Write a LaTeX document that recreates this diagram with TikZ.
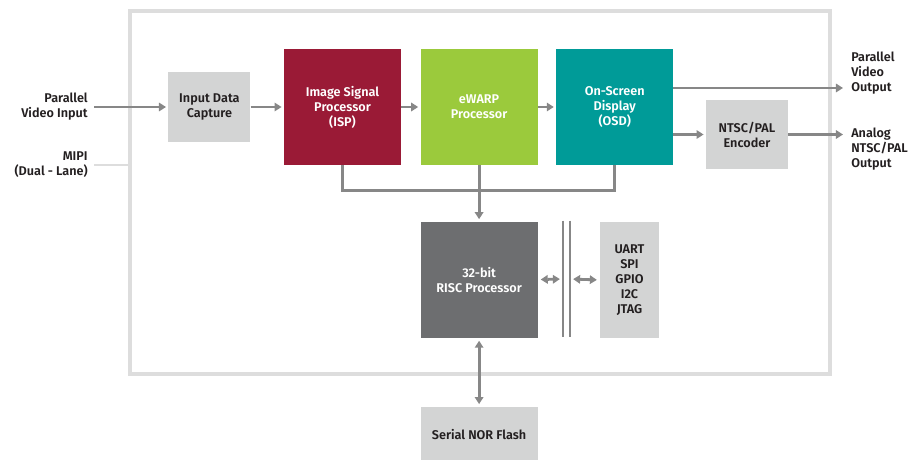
\documentclass[tikz,border=0pt]{standalone}
\usepackage{fontspec}
\setmainfont{Fira Sans}[BoldFont={Fira Sans SemiBold}]
\usepackage{tikz}
\usetikzlibrary{arrows.meta, positioning, calc}
\definecolor{framegray}{HTML}{DDDDDD}
\definecolor{boxgray}{HTML}{D3D4D4}
\definecolor{linegray}{HTML}{878787}
\definecolor{textdark}{HTML}{231F20}
\definecolor{ispred}{HTML}{9A1A36}
\definecolor{warpgreen}{HTML}{9BCA3C}
\definecolor{osdteal}{HTML}{009B98}
\definecolor{riscgray}{HTML}{6D6E70}

\begin{document}
\begin{tikzpicture}[x=0.025cm, y=-0.025cm,
    every node/.style={font=\fontsize{9}{10.6}\selectfont\bfseries, text=textdark, align=center},
    block/.style={minimum width=2.925cm, minimum height=2.9cm, inner sep=0pt, text=white},
    greybox/.style={fill=boxgray, inner sep=0pt},
    label/.style={inner sep=0pt},
    link/.style={draw=linegray, line width=2pt},
    arr/.style={link, -{Triangle[length=5pt,width=6pt]}, shorten >=1.5pt},
    darr/.style={link, {Triangle[length=5pt,width=6pt]}-{Triangle[length=5pt,width=6pt]}, shorten >=2pt, shorten <=2pt}]
                \useasboundingbox (0,0) rectangle (922,460);
                \node[draw=framegray, line width=2.4pt, minimum width=17.5cm, minimum height=9.075cm] at (480,192.5) (chip) {};
                \node[block, fill=ispred] at (342.5,107) (isp) {Image Signal\\Processor\\(ISP)};
                \node[block, fill=warpgreen, right=0.475cm of isp] (ewarp) {eWARP\\Processor};
                \node[block, fill=osdteal, right=0.45cm of ewarp] (osd) {On-Screen\\Display\\(OSD)};
                \node[greybox, minimum width=2.05cm, minimum height=1.75cm, left=0.825cm of isp] (idc) {Input Data\\Capture};
                \node[greybox, minimum width=2.05cm, minimum height=1.725cm] at (747,134.5) (enc) {NTSC/PAL\\Encoder};
                \node[block, fill=riscgray, below=1.4cm of ewarp] (risc) {32-bit\\RISC Processor};
                \node[minimum width=0.175cm, minimum height=2.9cm, inner sep=0pt] at (566.5,279) (bus) {};
                \node[greybox, minimum width=1.475cm, minimum height=2.9cm] at (629.5,280) (io) {UART\\SPI\\GPIO\\I2C\\JTAG};
                \node[greybox, minimum width=2.925cm, minimum height=1.35cm, below=1.725cm of risc] (flash) {Serial NOR Flash};
                \node[label, anchor=east, align=right] at (88,107) (pvin) {Parallel\\Video Input};
                \node[label, anchor=east, align=right] at (88,165) (mipi) {MIPI\\(Dual - Lane)};
                \node[label, anchor=west, align=left] at (851,73) (pvout) {Parallel\\Video\\Output};
                \node[label, anchor=west, align=left] at (851,149) (anout) {Analog\\NTSC/PAL\\Output};
                \coordinate (pvtap) at ([yshift=0.475cm]osd.east);
                \draw[arr, shorten <=0.15cm] (pvin.east) -- (idc.west);
                \draw[link, draw=framegray, shorten <=0.15cm] (mipi.east) -- (mipi.east -| chip.west);
                \draw[arr] (idc.east) -- (isp.west);
                \draw[arr] (isp.east) -- (ewarp.west);
                \draw[arr] (ewarp.east) -- (osd.west);
                \draw[arr, shorten >=0.2cm] (pvtap) -- (pvtap -| pvout.west);
                \draw[arr] (osd.east |- enc.west) -- (enc.west);
                \draw[arr, shorten >=0.2cm] (enc.east) -- (enc.east -| anout.west);
                \draw[link] (isp.south) -- ++(0,25) -| (osd.south);
                \draw[arr] (ewarp.south) -- (risc.north);
                \draw[link, line width=1.5pt] (bus.north west) -- (bus.south west);
                \draw[link, line width=1.5pt] (bus.north east) -- (bus.south east);
                \draw[darr] (risc.east) -- (bus.west);
                \draw[darr] (bus.east) -- (io.west);
                \draw[darr] (risc.south) -- (flash.north);
            \end{tikzpicture}
\end{document}
